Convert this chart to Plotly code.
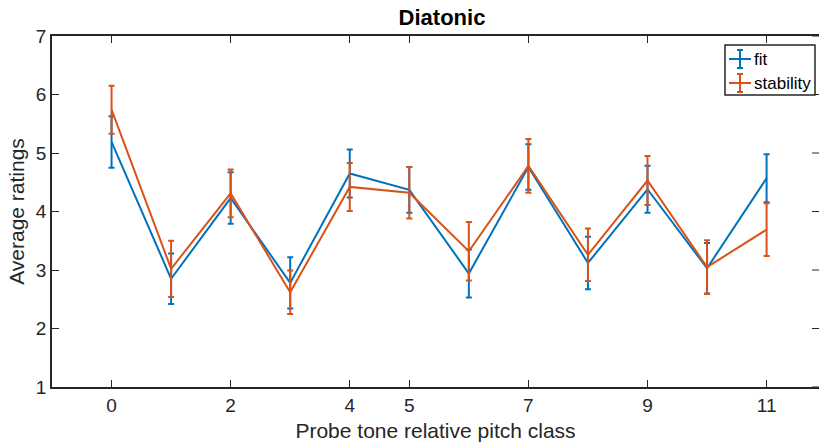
import plotly.graph_objects as go

pitch_class = [0, 1, 2, 3, 4, 5, 6, 7, 8, 9, 10, 11]
fit_mean = [5.19, 2.85, 4.23, 2.78, 4.65, 4.37, 2.94, 4.76, 3.12, 4.38, 3.03, 4.57]
fit_err = [0.44, 0.43, 0.44, 0.44, 0.41, 0.39, 0.41, 0.39, 0.45, 0.40, 0.43, 0.41]
stab_mean = [5.74, 3.02, 4.31, 2.62, 4.42, 4.32, 3.32, 4.78, 3.26, 4.53, 3.05, 3.69]
stab_err = [0.41, 0.48, 0.41, 0.37, 0.41, 0.44, 0.50, 0.46, 0.45, 0.42, 0.46, 0.45]
x_ticks = [0, 2, 4, 5, 7, 9, 11]
y_ticks = [1, 2, 3, 4, 5, 6, 7]

BLUE = "#0072BD"
ORANGE = "#D95319"
AX = "#262626"
FONT = "Liberation Sans, Arial, sans-serif"

L, T, B, W, H = 52, 36, 61, 819, 448
PW, PH = W - L, H - T - B


def px(xp):
    return (xp - L) / PW


def py(yp):
    return (H - B - yp) / PH


fig = go.Figure()
for name, m, e, c in [("fit", fit_mean, fit_err, BLUE), ("stability", stab_mean, stab_err, ORANGE)]:
    fig.add_trace(go.Scatter(
        x=pitch_class, y=m, mode="lines", name=name,
        line=dict(color=c, width=2),
        error_y=dict(type="data", array=e, visible=True, color=c, thickness=2, width=3),
        showlegend=False,
    ))

# right-side inward ticks (box axis whose line lies just outside the frame)
for t in y_ticks:
    fig.add_shape(type="line", xref="paper", yref="y", x0=1, x1=1 - 7 / PW, y0=t, y1=t,
                  line=dict(color=AX, width=1))

# custom MATLAB-like legend
fig.add_shape(type="rect", xref="paper", yref="paper",
              x0=px(725), x1=px(815), y0=py(95), y1=py(45),
              line=dict(color=AX, width=1.5), fillcolor="white", layer="above")
for i, (name, c) in enumerate([("fit", BLUE), ("stability", ORANGE)]):
    yc = 59 + i * 24
    fig.add_shape(type="line", xref="paper", yref="paper",
                  x0=px(729), x1=px(751), y0=py(yc), y1=py(yc),
                  line=dict(color=c, width=2), layer="above")
    fig.add_shape(type="line", xref="paper", yref="paper",
                  x0=px(740), x1=px(740), y0=py(yc - 9), y1=py(yc + 9),
                  line=dict(color=c, width=2), layer="above")
    for dy in (-9, 9):
        fig.add_shape(type="line", xref="paper", yref="paper",
                      x0=px(737), x1=px(743), y0=py(yc + dy), y1=py(yc + dy),
                      line=dict(color=c, width=2), layer="above")
    fig.add_annotation(xref="paper", yref="paper", x=px(752), y=py(yc),
                       text=name, showarrow=False, xanchor="left", yanchor="middle",
                       font=dict(family=FONT, size=17, color="black"))

axis_common = dict(showline=True, linecolor=AX, linewidth=1.5,
                   ticks="inside", ticklen=7, tickwidth=1, tickcolor=AX,
                   showgrid=False, zeroline=False,
                   tickfont=dict(family=FONT, size=19, color=AX))

fig.update_layout(
    width=W, height=H,
    margin=dict(l=L, r=0, t=T, b=B),
    paper_bgcolor="white", plot_bgcolor="white",
    title=dict(text="<b>Diatonic</b>", x=442 / W, xanchor="center", y=1 - 17 / H, yanchor="middle",
               font=dict(family=FONT, size=22, color="black")),
    xaxis=dict(range=[-1, 11.88], tickvals=x_ticks, ticktext=[str(t) for t in x_ticks],
               mirror="ticks",
               title=dict(text="Probe tone relative pitch class", standoff=9,
                          font=dict(family=FONT, size=21, color=AX)),
               **axis_common),
    yaxis=dict(range=[1, 7], tickvals=y_ticks, mirror=False,
               title=dict(text="Average ratings", standoff=6,
                          font=dict(family=FONT, size=21, color=AX)),
               **axis_common),
)

fig.write_html("out.html")
